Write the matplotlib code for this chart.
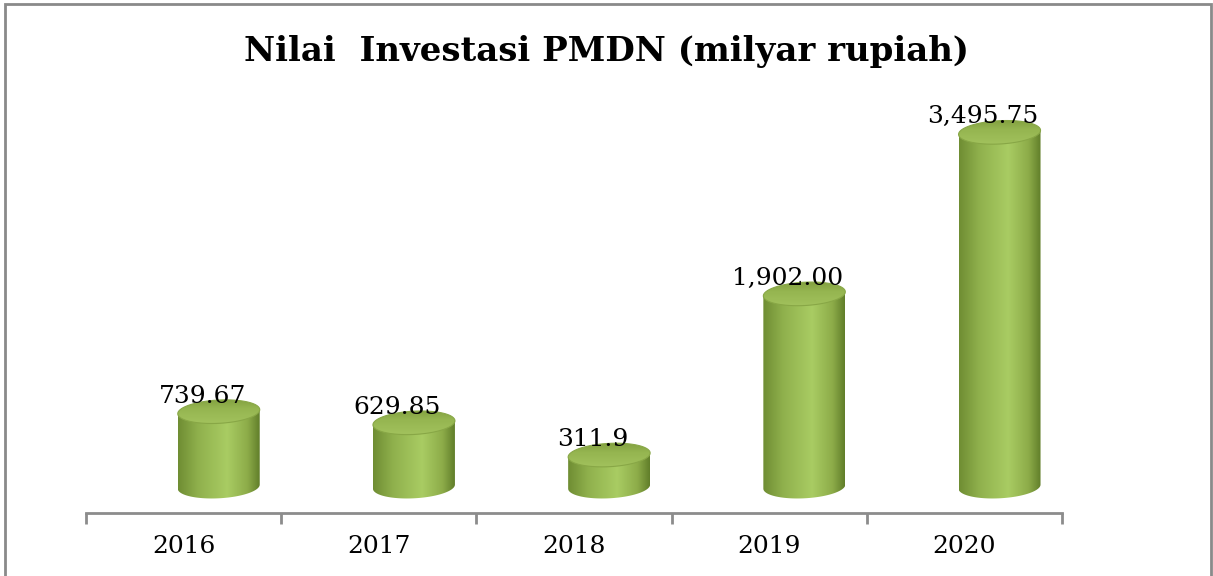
import matplotlib
matplotlib.use("Agg")
import matplotlib.pyplot as plt
import numpy as np
from matplotlib.patches import Polygon, Rectangle
from matplotlib.colors import LinearSegmentedColormap

plt.rcParams['font.family'] = ['DejaVu Serif']

tahun = ['2016', '2017', '2018', '2019', '2020']
nilai = [739.67, 629.85, 311.9, 1902.00, 3495.75]
label_nilai = ['739.67', '629.85', '311.9', '1,902.00', '3,495.75']

# warna gradasi silinder
cmap_badan = LinearSegmentedColormap.from_list(
    'badan', [(0.0, '#6f8d33'), (0.25, '#90b14d'), (0.6, '#a9cc63'),
              (0.85, '#8dac49'), (1.0, '#617e2a')])
cmap_tutup = LinearSegmentedColormap.from_list(
    'tutup', [(0.0, '#a3c35e'), (0.6, '#95b550'), (1.0, '#7e9c3d')])

fig = plt.figure(figsize=(12.13, 5.76), dpi=100)
ax = fig.add_axes([86 / 1213, 63 / 576, (1062 - 86) / 1213, (513 - 100) / 576])

lebar = 0.42
geser = 0.18
ry = 115     # setengah tinggi elips (satuan data)
miring = 20  # kemiringan elips, sisi kanan sedikit lebih tinggi

grad = np.linspace(0, 1, 256).reshape(1, -1)
t_all = np.linspace(0, 2 * np.pi, 120)
t_bawah = np.linspace(np.pi, 2 * np.pi, 60)
for i, v in enumerate(nilai):
    xc = i + geser
    x0, x1 = xc - lebar / 2, xc + lebar / 2
    bawah = np.column_stack([xc + lebar / 2 * np.cos(t_bawah),
                             ry * np.sin(t_bawah) + miring * np.cos(t_bawah)])
    verts = np.vstack([bawah, [[x1, v + miring], [x0, v - miring]]])
    badan = Polygon(verts, closed=True, transform=ax.transData)
    im = ax.imshow(grad, cmap=cmap_badan, extent=[x0, x1, -ry - miring, v + miring],
                   aspect='auto', interpolation='bilinear', zorder=2)
    im.set_clip_path(badan)

    atas = np.column_stack([xc + lebar / 2 * np.cos(t_all),
                            v + ry * np.sin(t_all) + miring * np.cos(t_all)])
    tutup = Polygon(atas, closed=True, transform=ax.transData)
    im2 = ax.imshow(grad.T[::-1], cmap=cmap_tutup,
                    extent=[x0, x1, v - ry - miring, v + ry + miring],
                    aspect='auto', interpolation='bilinear', zorder=3)
    im2.set_clip_path(tutup)
    ax.add_patch(Polygon(atas, closed=True, fill=False,
                         edgecolor='#88a746', linewidth=0.8, zorder=4))

    ax.text(i + 0.095, v + ry - 25, label_nilai[i], ha='center', va='baseline',
            fontsize=18, color='black', zorder=5)

ax.set_xlim(-0.5, 4.5)
ax.set_ylim(-260, 3815)

for s in ['top', 'left', 'right']:
    ax.spines[s].set_visible(False)
ax.spines['bottom'].set_color('#8c8c8c')
ax.spines['bottom'].set_linewidth(2)
ax.set_yticks([])
ax.set_xticks(np.arange(-0.5, 5, 1))
ax.set_xticklabels([])
ax.tick_params(axis='x', which='major', length=8, width=2, color='#8c8c8c', direction='out')
ax.set_xticks(range(len(tahun)), minor=True)
ax.set_xticklabels(tahun, minor=True, fontsize=18)
ax.tick_params(axis='x', which='minor', length=0, pad=16)
ax.patch.set_visible(False)

fig.text(0.5, 1 - 52 / 576, 'Nilai  Investasi PMDN (milyar rupiah)',
         ha='center', va='center', fontsize=24.5, fontweight='bold')

# bingkai
fig.patches.append(Rectangle((5 / 1213, -0.05), (1211 - 5) / 1213, 1 - 4 / 576 + 0.05,
                             transform=fig.transFigure, fill=False,
                             edgecolor='#8a8a8a', linewidth=2))

fig.savefig('out.png', dpi=100)
